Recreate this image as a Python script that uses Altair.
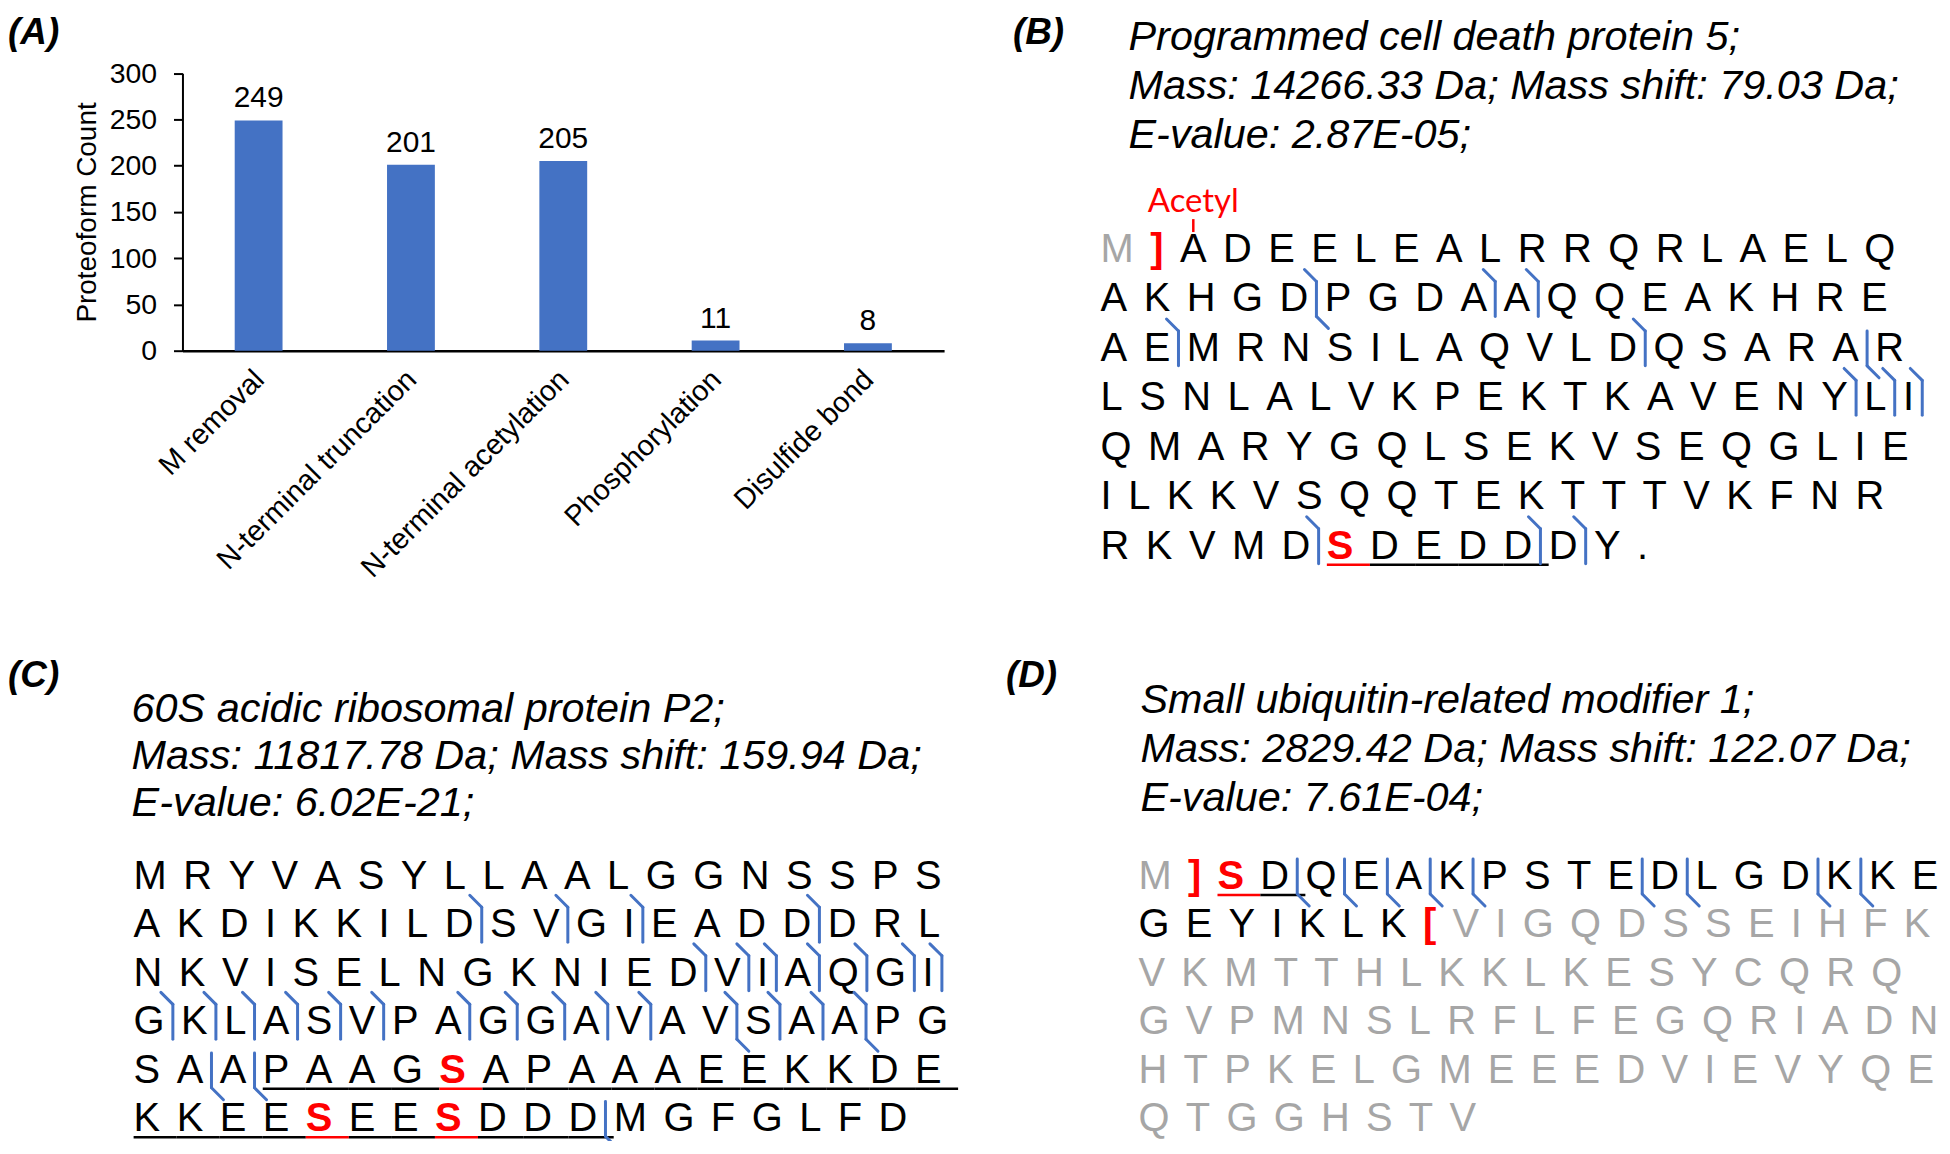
import altair as alt
import pandas as pd

W, H = 1940, 1133
FONT = "Liberation Sans, Arial, sans-serif"

# ---------------- Panel A data ----------------
categories = ["M removal", "N-terminal truncation", "N-terminal acetylation",
              "Phosphorylation", "Disulfide bond"]
counts = [249, 201, 205, 11, 8]
y_ticks = [0, 50, 100, 150, 200, 250, 300]

# ---------------- Panel labels ----------------
panel_labels = ["(A)", "(B)", "(C)", "(D)"]

# ---------------- Panel B data ----------------
b_title = ["Programmed cell death protein 5;",
           "Mass: 14266.33 Da; Mass shift: 79.03 Da;",
           "E-value: 2.87E-05;"]
b_rows = ["M]ADEELEALRRQRLAELQ",
          "AKHGDPGDAAQQEAKHRE",
          "AEMRNSILAQVLDQSARAR",
          "LSNLALVKPEKTKAVENYLI",
          "QMARYGQLSEKVSEQGLIE",
          "ILKKVSQQTEKTTTVKFNR",
          "RKVMDSDEDDDY."]
b_sites = [(6, 5)]                       # modified residues (red, bold)
b_start = (0, 1)                         # "]" position
b_end = None
b_cleav = [(1, 4, "by"), (1, 8, "b"), (1, 9, "b"),
           (2, 1, "b"), (2, 12, "b"), (2, 17, "y"),
           (3, 17, "b"), (3, 18, "b"), (3, 19, "b"),
           (6, 4, "b"), (6, 9, "b"), (6, 10, "b")]
b_under = [(6, 5, 9)]
b_mod_label = ("Acetyl", 0, 2)

# ---------------- Panel C data ----------------
c_title = ["60S acidic ribosomal protein P2;",
           "Mass: 11817.78 Da; Mass shift: 159.94 Da;",
           "E-value: 6.02E-21;"]
c_rows = ["MRYVASYLLAALGGNSSPS",
          "AKDIKKILDSVGIEADDDRL",
          "NKVISELNGKNIEDVIAQGI",
          "GKLASVPAGGAVAVSAAPG",
          "SAAPAAGSAPAAAEEKKDE",
          "KKEESEESDDDMGFGLFD"]
c_sites = [(4, 7), (5, 4), (5, 7)]
c_start = None
c_end = None
c_cleav = [(1, 8, "b"), (1, 10, "b"), (1, 12, "b"), (1, 16, "b"),
           (2, 13, "b"), (2, 14, "b"), (2, 15, "b"), (2, 16, "b"),
           (2, 17, "b"), (2, 18, "b"), (2, 19, "b"),
           (3, 0, "b"), (3, 1, "b"), (3, 2, "b"), (3, 3, "b"), (3, 4, "b"),
           (3, 5, "b"), (3, 7, "b"), (3, 8, "b"), (3, 9, "b"), (3, 10, "b"),
           (3, 11, "b"), (3, 13, "by"), (3, 14, "b"), (3, 15, "b"), (3, 16, "by"),
           (4, 1, "y"), (4, 2, "y"),
           (5, 10, "y")]
c_under = [(4, 3, 18), (5, 0, 10)]

# ---------------- Panel D data ----------------
d_title = ["Small ubiquitin-related modifier 1;",
           "Mass: 2829.42 Da; Mass shift: 122.07 Da;",
           "E-value: 7.61E-04;"]
d_rows = ["M]SDQEAKPSTEDLGDKKE",
          "GEYIKLK[VIGQDSSEIHFK",
          "VKMTTHLKKLKESYCQRQ",
          "GVPMNSLRFLFEGQRIADN",
          "HTPKELGMEEEDVIEVYQE",
          "QTGGHSTV"]
d_sites = [(0, 2)]
d_start = (0, 1)
d_end = (1, 7)
d_cleav = [(0, 3, "y"), (0, 4, "y"), (0, 5, "y"), (0, 6, "y"), (0, 7, "y"),
           (0, 11, "y"), (0, 12, "y"), (0, 15, "y"), (0, 16, "y")]
d_under = [(0, 2, 3)]

# ---------------- layout helpers (Arial / Liberation Sans advance widths) ----------------
FS = 40
REG_W = dict(A=667, B=667, C=722, D=722, E=667, F=611, G=778, H=722, I=278, J=500,
             K=667, L=556, M=833, N=722, O=778, P=667, Q=778, R=722, S=667, T=611,
             U=722, V=667, W=944, X=667, Y=667, Z=611)
REG_W.update({"[": 278, "]": 278, ".": 278})
BOLD_W = dict(REG_W)
BOLD_W.update({"[": 333, "]": 333, "S": 667})

RED = "#ff0000"
BLUE = "#4472c4"
GRAY = "#a6a6a6"

letters_reg, letters_bold, marker_segs, under_segs, mod_text, mod_tick = [], [], [], [], [], []


def build_panel(rows, x0, base0, line_h, gap, sites, start, end, cleav, under, mod=None):
    pos = {}
    for r, row in enumerate(rows):
        x = x0
        yb = base0 + r * line_h
        for i, ch in enumerate(row):
            bold = ch in "[]" or (r, i) in sites
            w = (BOLD_W if bold else REG_W)[ch] * FS / 1000.0
            if bold:
                col = RED
            elif (start is not None and (r, i) < start) or (end is not None and (r, i) > end):
                col = GRAY
            else:
                col = "#000000"
            rec = dict(x=x + w / 2, y=yb, t=ch, c=col)
            (letters_bold if bold else letters_reg).append(rec)
            pos[(r, i)] = (x, w, yb)
            x += w + gap
    for (r, i, kind) in cleav:
        ox, w, yb = pos[(r, i)]
        mx = ox + w + gap / 2
        marker_segs.append(dict(x=mx, x2=mx, y=yb - 30, y2=yb + 5))
        if "b" in kind:
            marker_segs.append(dict(x=mx, x2=mx - 12, y=yb - 30, y2=yb - 42))
        if "y" in kind:
            marker_segs.append(dict(x=mx, x2=mx + 12, y=yb + 5, y2=yb + 17))
    for (r, i0, i1) in under:
        for i in range(i0, i1 + 1):
            ox, w, yb = pos[(r, i)]
            end_x = ox + w + gap
            under_segs.append(dict(x=ox, x2=end_x, y=yb + 6, y2=yb + 6,
                                   c=RED if (r, i) in sites else "#000000"))
    if mod is not None:
        label, r, i = mod
        ox, w, yb = pos[(r, i)]
        mod_text.append(dict(x=ox + w / 2, y=yb - 50, t=label))
        mod_tick.append(dict(x=ox + w / 2, x2=ox + w / 2, y=yb - 43, y2=yb - 30))


build_panel(b_rows, 1096, 253, 49.6, 16.5, b_sites, b_start, b_end, b_cleav, b_under, b_mod_label)
build_panel(c_rows, 126, 881.6, 48.7, 16.5, c_sites, c_start, c_end, c_cleav, c_under)
build_panel(d_rows, 1134, 882, 48.6, 16.3, d_sites, d_start, d_end, d_cleav, d_under)

title_recs = []
for lines, tx, ty0, lh in [(b_title, 1124, 40, 49.5), (c_title, 124, 714, 47.5), (d_title, 1136, 705, 49.5)]:
    for k, s in enumerate(lines):
        title_recs.append(dict(x=tx, y=ty0 + k * lh, t=s))

label_recs = [dict(x=x, y=y, t=t) for t, (x, y) in
              zip(panel_labels, [(0, 34), (1008, 34), (0, 679), (1001, 679)])]

# ---------------- pixel-space scales for the text panels ----------------
PX = alt.Scale(domain=[0, W], range=[0, W], nice=False, zero=False)
PY = alt.Scale(domain=[0, H], range=[0, H], nice=False, zero=False)


def xy(df):
    return dict(x=alt.X("x:Q", scale=PX, axis=None), y=alt.Y("y:Q", scale=PY, axis=None))


def text_layer(recs, **mk):
    df = pd.DataFrame(recs)
    enc = xy(df)
    enc["text"] = alt.Text("t:N")
    if "c" in df.columns:
        enc["color"] = alt.Color("c:N", scale=None, legend=None)
    return alt.Chart(df).mark_text(baseline="alphabetic", **mk).encode(**enc)


def rule_layer(recs, **mk):
    df = pd.DataFrame(recs)
    enc = xy(df)
    enc["x2"] = alt.X2("x2:Q")
    enc["y2"] = alt.Y2("y2:Q")
    if "c" in df.columns:
        enc["color"] = alt.Color("c:N", scale=None, legend=None)
    return alt.Chart(df).mark_rule(**mk).encode(**enc)


text_panels = alt.layer(
    text_layer(label_recs, align="left", font=FONT, fontSize=37, fontWeight="bold",
               fontStyle="italic", color="black"),
    text_layer(title_recs, align="left", font=FONT, fontSize=41.5, fontStyle="italic",
               color="black"),
    text_layer(letters_reg, align="center", font=FONT, fontSize=FS),
    text_layer(letters_bold, align="center", font=FONT, fontSize=FS, fontWeight="bold"),
    text_layer(mod_text, align="center", font="Lato, Carlito, sans-serif", fontSize=33,
               color=RED),
    rule_layer(mod_tick, color=RED, strokeWidth=2.5),
    rule_layer(under_segs, strokeWidth=2.5),
    rule_layer(marker_segs, color=BLUE, strokeWidth=3, strokeCap="round"),
)

# ---------------- Panel A (bar chart) ----------------
bar_df = pd.DataFrame({"category": categories, "count": counts})
AX_X0, AX_X1 = 175, 939
AX_Y0, AX_Y300 = 342, 63.7

xb = alt.X("category:N", sort=categories, title=None,
           scale=alt.Scale(range=[AX_X0, AX_X1], paddingInner=0.686, paddingOuter=0.343),
           axis=alt.Axis(orient="bottom", offset=-(H - AX_Y0), labelAngle=315,
                         labelAlign="right", labelFont=FONT, labelFontSize=29,
                         labelColor="black", labelPadding=14, labelOffset=-9,
                         labelLimit=500, ticks=False, domainColor="black",
                         domainWidth=2.5, grid=False))
yb = alt.Y("count:Q", title="Proteoform Count",
           scale=alt.Scale(domain=[0, 300], range=[AX_Y0, AX_Y300], nice=False, zero=True),
           axis=alt.Axis(orient="left", offset=-AX_X0, values=y_ticks, labelFont=FONT,
                         labelFontSize=28.5, labelColor="black", labelPadding=17,
                         tickSize=9, tickWidth=2, tickColor="black", domainColor="black",
                         domainWidth=2, grid=False, titleFont=FONT, titleFontSize=28,
                         titleFontWeight="normal", titleColor="black", titlePadding=8))

bars = alt.Chart(bar_df).mark_bar(color="#4472c4").encode(x=xb, y=yb)
bar_labels = alt.Chart(bar_df).mark_text(baseline="alphabetic", dy=-13, font=FONT,
                                          fontSize=30, color="black").encode(
    x=alt.X("category:N", sort=categories),
    y=alt.Y("count:Q"),
    text=alt.Text("count:Q"))
panel_a = alt.layer(bars, bar_labels)

chart = alt.layer(text_panels, panel_a).resolve_scale(
    x="independent", y="independent"
).properties(
    width=W, height=H, padding=0,
    autosize=alt.AutoSizeParams(type="none"),
    background="white",
).configure_view(strokeWidth=0)

chart.save("out.html", embed_options={"renderer": "svg", "actions": False})
